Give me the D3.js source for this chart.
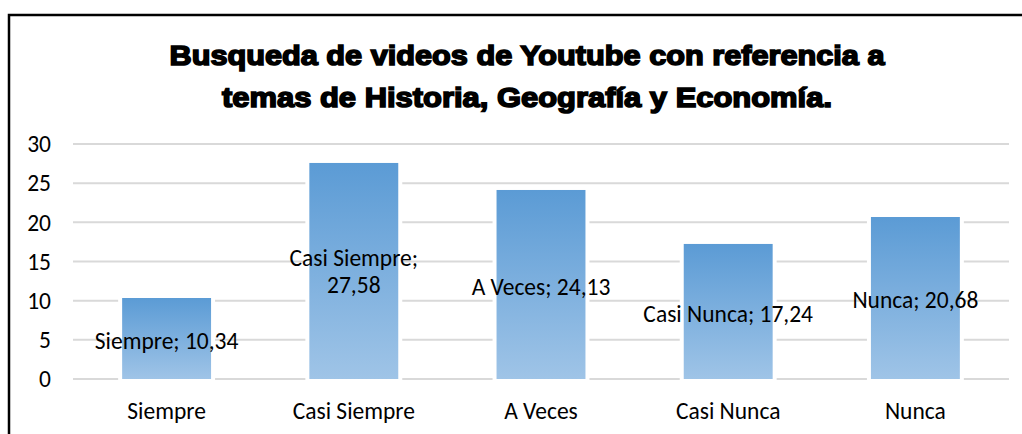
<!DOCTYPE html>
<html>
<head>
<meta charset="utf-8">
<script src="https://cdn.jsdelivr.net/npm/d3@7"></script>
<style>
  body { margin: 0; background: #fff; }
  svg { display: block; }
</style>
</head>
<body>
<div id="chart"></div>
<script>
var categories = ["Siempre", "Casi Siempre", "A Veces", "Casi Nunca", "Nunca"];
var values = [10.34, 27.58, 24.13, 17.24, 20.68];
var wrapLabel = [false, true, false, false, false];
var yTicks = [0, 5, 10, 15, 20, 25, 30];
var titleLines = ["Busqueda de videos de Youtube con referencia a", "temas de Historia, Geografía y Economía."];
var titleWidths = [715, 610];

var width = 1022, height = 434;
var margin = {top: 144, right: 13, bottom: 55, left: 73};
var font = "Carlito, Calibri, Lato, sans-serif";
var fs = 23.5;

var svg = d3.select("#chart").append("svg")
    .attr("width", width)
    .attr("height", height);

// frame
svg.append("rect")
    .attr("x", 9).attr("y", 15)
    .attr("width", width + 20).attr("height", height + 20)
    .attr("fill", "none")
    .attr("stroke", "#000")
    .attr("stroke-width", 2.5);

var grad = svg.append("defs").append("linearGradient")
    .attr("id", "barGrad")
    .attr("x1", 0).attr("y1", 0).attr("x2", 0).attr("y2", 1);
grad.append("stop").attr("offset", "0%").attr("stop-color", "#5b9bd5");
grad.append("stop").attr("offset", "100%").attr("stop-color", "#9fc4e7");

var x = d3.scaleBand()
    .domain(categories)
    .range([margin.left, width - margin.right])
    .paddingInner(0.525)
    .paddingOuter(0.2625);

var y = d3.scaleLinear()
    .domain([0, 30])
    .range([height - margin.bottom, margin.top]);

// gridlines
svg.append("g").selectAll("line")
    .data(yTicks)
    .enter()
    .append("line")
    .attr("x1", margin.left)
    .attr("x2", width - margin.right)
    .attr("y1", function(d){ return y(d); })
    .attr("y2", function(d){ return y(d); })
    .attr("stroke", "#d9d9d9")
    .attr("stroke-width", 2);

// y axis labels
svg.append("g").selectAll("text")
    .data(yTicks)
    .enter()
    .append("text")
    .attr("x", 51)
    .attr("y", function(d){ return y(d); })
    .attr("dy", "0.35em")
    .attr("text-anchor", "end")
    .attr("font-family", font)
    .attr("font-size", fs)
    .attr("fill", "#000")
    .text(function(d){ return d; });

// bars with white outline
var bars = svg.append("g").selectAll("g")
    .data(values)
    .enter()
    .append("g");

bars.append("rect")
    .attr("x", function(d,i){ return x(categories[i]) - 4; })
    .attr("y", function(d){ return y(d) - 1; })
    .attr("width", x.bandwidth() + 8)
    .attr("height", function(d){ return y(0) - y(d) + 2; })
    .attr("fill", "#fff");

bars.append("rect")
    .attr("x", function(d,i){ return x(categories[i]); })
    .attr("y", function(d){ return y(d); })
    .attr("width", x.bandwidth())
    .attr("height", function(d){ return y(0) - y(d); })
    .attr("fill", "url(#barGrad)");

// data labels
function fmt(v){ return String(v).replace(".", ","); }

bars.each(function(d,i){
    var cx = x(categories[i]) + x.bandwidth() / 2;
    var cy = y(d / 2);
    var t = d3.select(this).append("text")
        .attr("text-anchor", "middle")
        .attr("font-family", font)
        .attr("font-size", fs)
        .attr("fill", "#000");
    if(wrapLabel[i]){
        t.append("tspan").attr("x", cx).attr("y", cy - 13.5).attr("dy", "0.35em")
            .text(categories[i] + ";");
        t.append("tspan").attr("x", cx).attr("y", cy + 13.5).attr("dy", "0.35em")
            .text(fmt(d));
    } else {
        t.append("tspan").attr("x", cx).attr("y", cy + 2).attr("dy", "0.35em")
            .text(categories[i] + "; " + fmt(d));
    }
});

// x axis labels
svg.append("g").selectAll("text")
    .data(categories)
    .enter()
    .append("text")
    .attr("x", function(d){ return x(d) + x.bandwidth() / 2; })
    .attr("y", 419)
    .attr("text-anchor", "middle")
    .attr("font-family", font)
    .attr("font-size", fs)
    .attr("fill", "#000")
    .text(function(d){ return d; });

// title
svg.append("g").selectAll("text")
    .data(titleLines)
    .enter()
    .append("text")
    .attr("x", 527)
    .attr("y", function(d,i){ return 65 + i * 42; })
    .attr("text-anchor", "middle")
    .attr("font-family", "'Liberation Sans', Arial, sans-serif")
    .attr("font-weight", "bold")
    .attr("font-size", 28)
    .attr("textLength", function(d,i){ return titleWidths[i]; })
    .attr("lengthAdjust", "spacingAndGlyphs")
    .attr("fill", "#000")
    .attr("stroke", "#000")
    .attr("stroke-width", 1.6)
    .text(function(d){ return d; });
</script>
</body>
</html>
